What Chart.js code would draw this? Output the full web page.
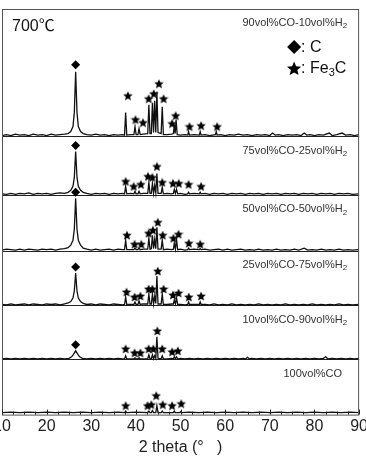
<!DOCTYPE html>
<html>
<head>
<meta charset="utf-8">
<script src="https://cdn.jsdelivr.net/npm/chart.js@4/dist/chart.umd.min.js"></script>
<style>
  html, body { margin: 0; padding: 0; background: #fff; overflow: hidden; }
  #wrap { position: absolute; left: -10px; top: 0; }
</style>
</head>
<body>
<div id="wrap"><canvas id="xrd" width="380" height="462"></canvas></div>
<script>
// 2theta / intensity pairs, intensity measured above each pattern's own baseline
const XRD_90 = [[10,1],[11,2],[12,1],[13,2.5],[14,1.5],[15,2],[16,1],[17,2.5],[18,1.5],[19,2],[20,1],[21,2.5],[22,1.5],[23,2],[24,2.5],
  [24.8,3],[25.4,5],[25.9,10],[26.2,24],[26.5,65],[26.8,24],[27.1,10],[27.6,5],[28.2,3],[29,2],[30,1.5],[31,2.5],[32,1.5],[33,2],[34,1],[35,2],[36,1.5],[37,2],
  [37.45,1.5],[37.7,24],[37.95,1.5],[38.8,2],[39.55,2],[39.8,10],[40.05,2],[40.45,2],[40.7,8],[40.95,2],[41.6,2.5],
  [42.65,3],[42.9,32],[43.15,3],[43.45,3],[43.7,34],[43.95,4],[44.2,36],[44.45,4],[44.7,45],[44.95,4],[45.65,3],[45.9,30],[46.15,2],
  [47,2],[48,2.5],[48.4,3],[48.6,12],[48.8,3],[49.0,17],[49.25,2],[50,1.5],[51,2],[51.6,1.5],[51.8,5],[52,1.5],[53,2],[54.2,1.5],[54.4,5],[54.6,1.5],
  [55.5,2],[56.5,1],[57.8,2],[58,5],[58.2,1.5],[59,2],[60,1],[61,2],[62,1.5],[63,2.5],[64,1.5],[65,2],[66,1],[67,2],[68,1.5],[69,2],[70,1],[70.6,3.5],[71.2,1.5],
  [72,2],[73,1],[74,2],[75,1.5],[76,2],[77,1],[77.7,3.5],[78.3,1.5],[79,2],[80,1],[81,2],[82,1.5],[83.3,3.5],[84,1],[85,2],[86.2,3.5],[87,1.5],[88,2],[89,1],[90,2]];

const XRD_75 = [[10,1.5],[11,1],[12,2],[13,1],[14,2],[15,1.5],[16,2.5],[17,1],[18,2],[19,1.5],[20,2],[21,1],[22,2],[23,2.5],[24,2],
  [24.8,3],[25.4,5],[25.9,9],[26.2,18],[26.5,44],[26.8,18],[27.1,9],[27.6,5],[28.2,3],[29,2],[30,1],[31,2],[32,1.5],[33,2],[34,1],[35,2],[36,1.5],[37,2],
  [37.45,1.5],[37.7,9],[37.95,1.5],[38.8,2],[39.55,1.5],[39.8,4],[40.05,1.5],[40.45,1.5],[40.7,4],[40.95,1.5],[41.6,2],
  [42.65,2],[42.9,13],[43.15,2],[43.45,2],[43.7,12],[43.95,2],[44.2,10],[44.45,2.5],[44.7,22],[44.95,2],[45.65,2],[45.9,8],[46.15,1.5],
  [47,2],[48,1.5],[48.4,2],[48.6,6],[48.85,2],[49.1,6],[49.35,1.5],[50,2],[51,1],[51.6,1.5],[51.8,3],[52,1.5],[53,2],[54.2,1.5],[54.4,3],[54.6,1.5],
  [55.5,2],[56.5,1],[57.5,2],[58.5,1.5],[59.5,2],[60.5,1],[61.5,2],[62.5,1.5],[63.5,2],[64.5,1],[65.5,2],[66.5,1.5],[67.5,2],[68.5,1],[69.5,2],[70.5,1.5],
  [71.5,2],[72.5,1],[73.5,2],[74.5,1.5],[75.5,2],[76.5,1],[77.5,2],[78.5,1.5],[79.5,2],[80.5,1],[81.5,2],[82.5,1.5],[83.5,2],[84.5,1],[85.5,2],[86.5,1.5],[87.5,2],[88.5,1],[90,1.5]];

const XRD_50 = [[10,1],[11,2],[12,1.5],[13,1],[14,2],[15,1],[16,2],[17,1.5],[18,1],[19,2],[20,1.5],[21,2],[22,1],[23,2],[24,2.5],
  [24.8,3.5],[25.4,6],[25.9,11],[26.2,22],[26.5,53],[26.8,22],[27.1,11],[27.6,6],[28.2,3],[29,2],[30,1],[31,2],[32,1],[33,1.5],[34,2],[35,1],[36,2],[37,1.5],
  [37.45,1.5],[37.7,11],[37.95,1.5],[38.8,1.5],[39.55,1.5],[39.8,3],[40.05,1.5],[40.45,1.5],[40.7,3],[40.95,1.5],[41.6,2],
  [42.65,2],[42.9,13],[43.15,2],[43.45,2.5],[43.7,16],[43.95,2.5],[44.2,12],[44.45,2.5],[44.7,24],[44.95,2],[45.65,2],[45.9,11],[46.15,1.5],
  [47,2],[48,1.5],[48.4,2],[48.6,8],[48.85,2],[49.1,12],[49.35,1.5],[50,2],[51,1],[51.6,1.5],[51.8,3],[52,1.5],[53,2],[54.2,1.5],[54.4,2.5],[54.6,1.5],
  [55.5,2],[56.5,1],[57.5,1.5],[58.5,2],[59.5,1],[60.5,2],[61.5,1],[62.5,1.5],[63.5,2],[64.5,1],[65.5,1.5],[66.5,1],[67.5,2],[68.5,1],[69.5,1.5],[70.5,1],
  [71.5,2],[72.5,1],[73.5,1.5],[74.5,1],[75.5,2],[76.5,1],[77.7,3],[78.5,1],[79.5,1.5],[80.5,1],[81.5,2],[82.5,1],[83.5,1.5],[84.5,1],[85.5,2],[86.5,1],[87.5,1.5],[88.5,1],[90,1.5]];

const XRD_25 = [[10,1.5],[11,1],[12,2],[13,1],[14,1.5],[15,2],[16,1],[17,2],[18,1.5],[19,1],[20,2],[21,1.5],[22,2],[23,1],[24,2],
  [24.8,3],[25.4,4.5],[25.9,8],[26.2,15],[26.5,33],[26.8,15],[27.1,8],[27.6,4.5],[28.2,2.5],[29,1.5],[30,2],[31,1],[32,2],[33,1.5],[34,1],[35,2],[36,1.5],[37,1],
  [37.45,1.5],[37.7,9],[37.95,1.5],[38.8,1.5],[39.55,1.5],[39.8,4],[40.05,1.5],[40.45,1.5],[40.7,5],[40.95,1.5],[41.6,2],
  [42.65,2],[42.9,12],[43.15,2],[43.45,2],[43.7,12],[43.95,2],[44.2,10],[44.45,2.5],[44.7,30],[44.95,2],[45.65,2],[45.9,12],[46.15,1.5],
  [47,1.5],[48,2],[48.4,2],[48.6,6],[48.85,2],[49.1,8],[49.35,1.5],[50,1.5],[51,1],[51.6,1.5],[51.8,4],[52,1.5],[53,1.5],[54.2,1.5],[54.4,4],[54.6,1.5],
  [55.5,1.5],[56.5,1],[57.5,2],[58.5,1],[59.5,1.5],[60.5,1],[61.5,2],[62.5,1],[63.5,1.5],[64.5,1],[65.5,1.5],[66.5,1],[67.5,2],[68.5,1],[69.5,1.5],[70.5,1],
  [71.5,1.5],[72.5,1],[73.5,2],[74.5,1],[75.5,1.5],[76.5,1],[77.5,1.5],[78.5,1],[79.5,2],[80.5,1],[81.5,1.5],[82.5,1],[83.5,1.5],[84.5,1],[85.5,2],[86.5,1],[87.5,1.5],[88.5,1],[90,1.5]];

const XRD_10 = [[10,1],[11,1.5],[12,1],[13,1.5],[14,1],[15,1.5],[16,1],[17,1.5],[18,1],[19,1.5],[20,1],[21,1.5],[22,1],[23,1.5],[24,1],
  [25,1.5],[25.6,3],[26,5.5],[26.5,9],[27,5.5],[27.4,3],[28,1.5],[29,1],[30,1.5],[31,1],[32,1.5],[33,1],[34,1.5],[35,1],[36,1.5],[37,1],
  [37.45,1],[37.7,4],[37.95,1],[38.8,1],[39.55,1],[39.8,2],[40.05,1],[40.45,1],[40.7,2],[40.95,1],[41.6,1],
  [42.65,1],[42.9,5],[43.15,1],[43.45,1],[43.7,5],[43.95,1],[44.2,4],[44.45,1.5],[44.7,23],[44.95,1.5],[45.65,1],[45.9,4],[46.15,1],
  [47,1],[48,1.5],[48.4,1],[48.6,3],[48.85,1],[49.1,3],[49.35,1],[50,1.5],[51,1],[52,1.5],[53,1],[54,1.5],[55,1],[56,1.5],[57,1],[58,1.5],[59,1],[60,1.5],
  [61,1],[62,1.5],[63,1],[64,1.5],[64.6,1],[65,2.5],[65.4,1],[66,1.5],[67,1],[68,1.5],[69,1],[70,1.5],[71,1],[72,1.5],[73,1],[74,1.5],[75,1],[76,1.5],
  [77,1],[78,1.5],[79,1],[80,1.5],[81,1],[82,1.5],[82.5,3],[83,1],[84,1.5],[85,1],[86,1.5],[87,1],[88,1.5],[89,1],[90,1.5]];

const XRD_100 = [[10,1],[12,1.5],[14,1],[16,1.5],[18,1],[20,1.5],[22,1],[24,1.5],[26,1],[28,1.5],[30,1],[32,1.5],[34,1],[36,1.5],
  [37.45,1],[37.7,2.5],[37.95,1],[40,1.5],[42.65,1],[42.9,2.5],[43.15,1],[43.45,1],[43.7,3],[43.95,1],[44.45,1],[44.7,8],[44.95,1],
  [45.65,1],[45.9,2.5],[46.15,1],[48.4,1],[48.6,2.5],[48.8,1],[49.8,1],[50.0,2],[50.2,1],[52,1.5],[54,1],[56,1.5],[58,1],[60,1.5],
  [62,1],[64,1.5],[66,1],[68,1.5],[70,1],[72,1.5],[74,1],[76,1.5],[78,1],[80,1.5],[82,1],[84,1.5],[86,1],[88,1.5],[90,1]];

const PATTERNS = [XRD_90, XRD_75, XRD_50, XRD_25, XRD_10, XRD_100];
const OFFSETS = [279, 220, 164, 109, 55, 1];
const SEPARATORS = [55, 109, 164, 220, 279];
const Y_MAX = 407;
const LABELS = [['90vol%CO-10vol%H', '2'], ['75vol%CO-25vol%H', '2'], ['50vol%CO-50vol%H', '2'],
  ['25vol%CO-75vol%H', '2'], ['10vol%CO-90vol%H', '2'], ['100vol%CO', '']];

// markers: C (graphite) diamonds and Fe3C stars, [2theta, height above baseline]
const C_THETA = 26.5;
const C_MARK = [72, 50, 59, 39, 15];
const STARS = [
  [[38.2,41],[39.9,17],[41.6,14],[42.85,38],[44.0,43],[45.15,53],[46.2,38],[48.1,13],[48.9,21],[52.0,10],[54.6,11],[58.2,10]],
  [[37.7,14],[39.5,9],[41.1,11],[42.7,19],[43.7,18],[44.7,29],[45.9,13],[48.3,12],[49.6,12],[51.8,11],[54.6,9]],
  [[38.0,16],[39.7,7],[41.2,7],[42.85,18],[43.8,21],[44.9,29],[46.0,16],[48.4,13],[49.55,17],[51.85,8],[54.4,7]],
  [[37.9,14],[39.7,9],[41.0,10],[42.85,17],[43.7,17],[44.9,35],[46.2,17],[48.3,11],[49.55,13],[51.85,9],[54.6,10]],
  [[37.7,11],[39.7,7],[41.0,7],[42.85,11],[43.9,11],[44.8,29],[45.9,11],[48.1,8],[49.4,9]],
  [[37.7,8],[42.6,8],[43.45,9],[44.55,18],[46.0,9],[48.1,8],[50.15,10]]
];
const X_TICKS = [10, 20, 30, 40, 50, 60, 70, 80, 90];

const FONT = '"Liberation Sans", Arial, sans-serif';

function starPath(c, cx, cy, R) {
  const r = R * 0.45;
  c.beginPath();
  for (let k = 0; k < 10; k++) {
    const a = -Math.PI / 2 + k * Math.PI / 5;
    const rr = k % 2 === 0 ? R : r;
    const px = cx + rr * Math.cos(a), py = cy + rr * Math.sin(a);
    if (k === 0) c.moveTo(px, py); else c.lineTo(px, py);
  }
  c.closePath();
}

const starImg = document.createElement('canvas');
starImg.width = 10; starImg.height = 10;
(function () {
  const c = starImg.getContext('2d');
  c.fillStyle = '#000';
  starPath(c, 5, 5.4, 5);
  c.fill();
})();

const datasets = [];
PATTERNS.forEach((p, i) => {
  datasets.push({
    type: 'line',
    data: p.map(([t, v]) => ({ x: t, y: v + OFFSETS[i] })),
    borderColor: '#111',
    borderWidth: 1.3,
    pointRadius: 0,
    tension: 0
  });
});
datasets.push({
  type: 'scatter',
  data: C_MARK.map((h, i) => ({ x: C_THETA, y: h + OFFSETS[i] })),
  pointStyle: 'rectRot',
  pointRadius: 4.5,
  backgroundColor: '#000',
  borderWidth: 0
});
datasets.push({
  type: 'scatter',
  data: STARS.flatMap((list, i) => list.map(([t, h]) => ({ x: t, y: h + OFFSETS[i] }))),
  pointStyle: starImg,
  pointRadius: 5
});

const decorPlugin = {
  id: 'decor',
  afterDraw(chart) {
    const { ctx, chartArea: a, scales: { x, y } } = chart;
    ctx.save();
    // frame
    ctx.strokeStyle = '#555';
    ctx.lineWidth = 1;
    ctx.strokeRect(a.left + 0.5, a.top + 0.5, a.right - a.left - 1, a.bottom - a.top);
    // inward ticks
    ctx.strokeStyle = '#222';
    ctx.beginPath();
    for (let v = 10; v <= 90; v += 2.5) {
      const px = Math.round(x.getPixelForValue(v)) + 0.5;
      const len = v % 10 === 0 ? 5 : 3;
      ctx.moveTo(px, a.bottom);
      ctx.lineTo(px, a.bottom - len);
    }
    ctx.stroke();
    // panel labels
    ctx.fillStyle = '#333';
    ctx.textBaseline = 'middle';
    ctx.textAlign = 'right';
    LABELS.forEach(([main, sub], i) => {
      const top = i === 0 ? a.top : y.getPixelForValue(SEPARATORS[SEPARATORS.length - i]);
      const ly = top + 14;
      let rx = a.right - 12;
      if (sub) {
        ctx.font = '8px ' + FONT;
        ctx.fillText(sub, rx, ly + 3);
        rx -= ctx.measureText(sub).width;
      } else {
        rx -= 5;
      }
      ctx.font = '11px ' + FONT;
      ctx.fillText(main, rx, ly);
    });
    // temperature
    ctx.fillStyle = '#111';
    ctx.textAlign = 'left';
    ctx.font = '16px ' + FONT + ', "Noto Sans CJK SC"';
    ctx.fillText('700℃', a.left + 10, a.top + 18);
    // legend
    const lx = a.right - 65;
    ctx.fillStyle = '#000';
    ctx.beginPath();
    ctx.moveTo(lx, a.top + 31); ctx.lineTo(lx + 7, a.top + 38);
    ctx.lineTo(lx, a.top + 45); ctx.lineTo(lx - 7, a.top + 38);
    ctx.closePath(); ctx.fill();
    starPath(ctx, lx, a.top + 60, 7.5);
    ctx.fill();
    ctx.fillStyle = '#111';
    ctx.font = '16px ' + FONT;
    ctx.fillText(': C', lx + 7, a.top + 39);
    let tx = lx + 7;
    ctx.fillText(': Fe', tx, a.top + 60);
    tx += ctx.measureText(': Fe').width;
    ctx.font = '11px ' + FONT;
    ctx.fillText('3', tx, a.top + 64);
    tx += ctx.measureText('3').width;
    ctx.font = '16px ' + FONT;
    ctx.fillText('C', tx, a.top + 60);
    ctx.restore();
  }
};

new Chart(document.getElementById('xrd'), {
  type: 'line',
  data: { datasets },
  options: {
    responsive: false,
    animation: false,
    layout: { padding: { left: 12, right: 10, top: 9, bottom: 5 } },
    plugins: { legend: { display: false }, tooltip: { enabled: false } },
    scales: {
      x: {
        type: 'linear', min: 10, max: 90,
        afterBuildTicks: s => { s.ticks = X_TICKS.map(v => ({ value: v })); },
        ticks: { font: { size: 16, family: FONT }, color: '#222', padding: 2, maxRotation: 0, autoSkip: false },
        grid: { display: false, drawTicks: false },
        border: { display: false },
        title: { display: true, text: '2 theta (°   )', color: '#222', font: { size: 16, family: FONT }, padding: { top: 0, bottom: 0 } }
      },
      y: {
        min: 0, max: Y_MAX,
        afterBuildTicks: s => { s.ticks = SEPARATORS.map(v => ({ value: v })); },
        ticks: { display: false },
        grid: { color: '#222', lineWidth: 1, drawTicks: false },
        border: { display: false }
      }
    }
  },
  plugins: [decorPlugin]
});
</script>
</body>
</html>
